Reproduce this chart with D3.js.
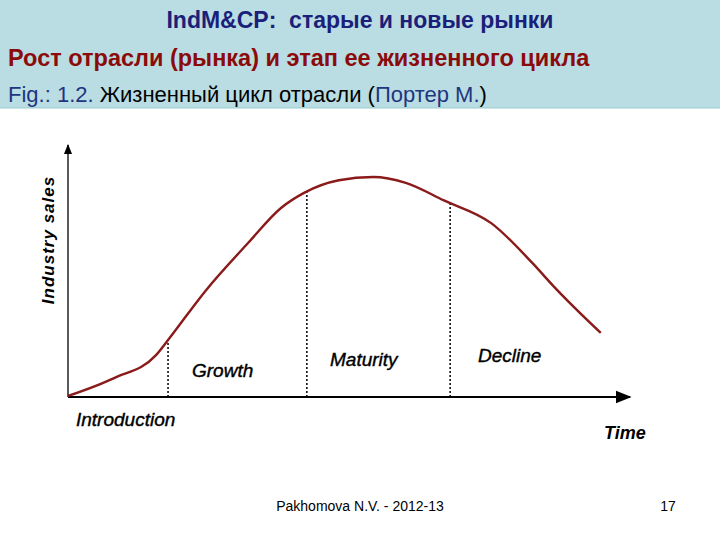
<!DOCTYPE html>
<html><head><meta charset="utf-8">
<script src="https://cdn.jsdelivr.net/npm/d3@7"></script>
<style>body{margin:0;background:#fff}text{font-family:"Liberation Sans",Arial,sans-serif}</style>
</head><body><svg id="c" width="720" height="540"></svg>
<script>
// life cycle curve (time 0..100, sales 0..100)
const time  = [0, 8.2, 15.7, 17.8, 24.6, 32, 37.9, 42, 48.2, 54.3, 60.1, 66.9, 75.3, 82.7, 86.5, 94.8];
const sales = [0.4, 7.5, 16.7, 22.6, 42.5, 61, 75, 81, 86, 87.3, 85, 78, 69, 53, 43.7, 25.4];
const phaseBreaks = [17.8, 42.5, 68];
const stages = ["Introduction", "Growth", "Maturity", "Decline"];

const svg = d3.select("#c");
const x = d3.scaleLinear().domain([0, 100]).range([68, 630]);
const y = d3.scaleLinear().domain([0, 100]).range([397, 145]);

// header band
svg.append("rect").attr("width", 720).attr("height", 108).attr("fill", "#b9dde3");
svg.append("line").attr("x1", 0).attr("x2", 720).attr("y1", 108).attr("y2", 108).attr("stroke", "#9cc").attr("stroke-width", 1);
svg.append("text").attr("x", 360).attr("y", 28).attr("text-anchor", "middle")
  .attr("font-size", 23).attr("font-weight", "bold").attr("fill", "#1b1f7a").attr("xml:space", "preserve").text("IndM&CP:  старые и новые рынки");
svg.append("text").attr("x", 8).attr("y", 66).attr("font-size", 23.5).attr("font-weight", "bold")
  .attr("fill", "#8b0a0a").text("Рост отрасли (рынка) и этап ее жизненного цикла");
const fig = svg.append("text").attr("x", 8).attr("y", 102).attr("font-size", 22);
fig.append("tspan").attr("fill", "#1f3580").text("Fig.: 1.2. ");
fig.append("tspan").attr("fill", "#000").text("Жизненный цикл отрасли (");
fig.append("tspan").attr("fill", "#1f3580").text("Портер М.");
fig.append("tspan").attr("fill", "#000").text(")");

// axes
svg.append("defs").append("marker").attr("id", "ar").attr("viewBox", "0 0 10 10")
  .attr("refX", 9).attr("refY", 5).attr("markerWidth", 8).attr("markerHeight", 8).attr("orient", "auto")
  .append("path").attr("d", "M0,1L10,5L0,9Z").attr("fill", "#000");
svg.append("line").attr("x1", x(0)).attr("y1", y(0)).attr("x2", x(0)).attr("y2", y(100))
  .attr("stroke", "#000").attr("stroke-width", 1.3).attr("marker-end", "url(#ar)");
svg.append("line").attr("x1", x(0)).attr("y1", y(0)).attr("x2", x(100)).attr("y2", y(0))
  .attr("stroke", "#000").attr("stroke-width", 2).attr("marker-end", "url(#ar)");

// phase lines
const interp = t => { const i = d3.bisectLeft(time, t); if (i <= 0) return sales[0];
  const f = (t - time[i-1]) / (time[i] - time[i-1]); return sales[i-1] + f * (sales[i] - sales[i-1]); };
svg.selectAll(".ph").data(phaseBreaks).join("line")
  .attr("x1", d => x(d)).attr("x2", d => x(d)).attr("y1", y(0)).attr("y2", d => y(interp(d)))
  .attr("stroke", "#000").attr("stroke-width", 1.5).attr("stroke-dasharray", "2,2");

// curve
const line = d3.line().x((d, i) => x(time[i])).y(d => y(d)).curve(d3.curveMonotoneX);
svg.append("path").attr("d", line(sales)).attr("fill", "none").attr("stroke", "#8b1a1a").attr("stroke-width", 2.4);

// labels
const lab = [[76, 426], [192, 377], [330, 366], [478, 362]];
svg.selectAll(".st").data(stages).join("text").attr("x", (d, i) => lab[i][0]).attr("y", (d, i) => lab[i][1])
  .attr("font-size", 19).attr("font-style", "italic").attr("fill", "#000")
  .attr("stroke", "#000").attr("stroke-width", 0.4).text(d => d);
svg.append("text").attr("x", 604).attr("y", 439).attr("font-size", 18).attr("font-style", "italic").attr("font-weight", "bold").text("Time");
svg.append("text").attr("transform", "translate(54,240) rotate(-90)").attr("text-anchor", "middle")
  .attr("font-size", 17).attr("font-style", "italic").attr("font-weight", "bold").attr("letter-spacing", 1).text("Industry sales");

// footer
svg.append("text").attr("x", 360).attr("y", 511).attr("text-anchor", "middle").attr("font-size", 14).text("Pakhomova N.V. - 2012-13");
svg.append("text").attr("x", 668).attr("y", 511).attr("text-anchor", "middle").attr("font-size", 14).text("17");
</script></body></html>
